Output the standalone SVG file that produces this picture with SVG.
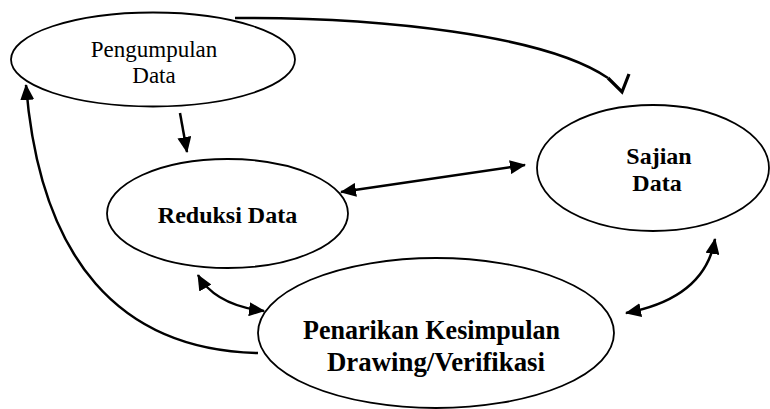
<svg xmlns="http://www.w3.org/2000/svg" width="770" height="409" viewBox="0 0 770 409">
<style>
.node ellipse{fill:#fff;stroke:#000;stroke-width:1.8}
text{font-family:"Liberation Serif","Times New Roman",serif;fill:#000;text-anchor:middle}
.b{font-weight:bold}
.c{fill:none;stroke:#000;stroke-width:2.5}
</style>
<defs>
<marker id="ah" viewBox="0 0 16 14" refX="15" refY="7" markerWidth="16" markerHeight="14" markerUnits="userSpaceOnUse" orient="auto-start-reverse">
<path d="M0,0 L16,7 L0,14 z" fill="#000"/>
</marker>
</defs>
<g id="connectors">
<path class="c" d="M235,18 C380,17 545,35 608,78"/>
<path d="M608,78 L622,92 L629,74" fill="none" stroke="#000" stroke-width="3.2" stroke-linejoin="miter"/>
<path class="c" d="M180,113 L187,152" marker-end="url(#ah)"/>
<path class="c" d="M341,192 L525,165" marker-start="url(#ah)" marker-end="url(#ah)"/>
<path class="c" d="M258,353 C120,350 40,260 26,85" marker-end="url(#ah)"/>
<path class="c" d="M198,275 Q215,305 264,311" marker-start="url(#ah)" marker-end="url(#ah)"/>
<path class="c" d="M715,239 Q705,298 626,313" marker-start="url(#ah)" marker-end="url(#ah)"/>
</g>
<g id="pengumpulan" class="node">
<ellipse cx="153" cy="59.5" rx="142" ry="47"/>
<text x="154" y="57" font-size="23">Pengumpulan</text>
<text x="154" y="83" font-size="23">Data</text>
</g>
<g id="reduksi" class="node">
<ellipse cx="227.5" cy="213.5" rx="120.5" ry="54.5"/>
<text class="b" x="227.5" y="223" font-size="24">Reduksi Data</text>
</g>
<g id="sajian" class="node">
<ellipse cx="653" cy="168" rx="116" ry="63"/>
<text class="b" x="659" y="164" font-size="24">Sajian</text>
<text class="b" x="657" y="191" font-size="24">Data</text>
</g>
<g id="penarikan" class="node">
<ellipse cx="436" cy="333" rx="178" ry="75"/>
<text class="b" x="431.5" y="339" font-size="27" textLength="257" lengthAdjust="spacingAndGlyphs">Penarikan Kesimpulan</text>
<text class="b" x="436" y="371" font-size="27" textLength="218" lengthAdjust="spacingAndGlyphs">Drawing/Verifikasi</text>
</g>
</svg>
